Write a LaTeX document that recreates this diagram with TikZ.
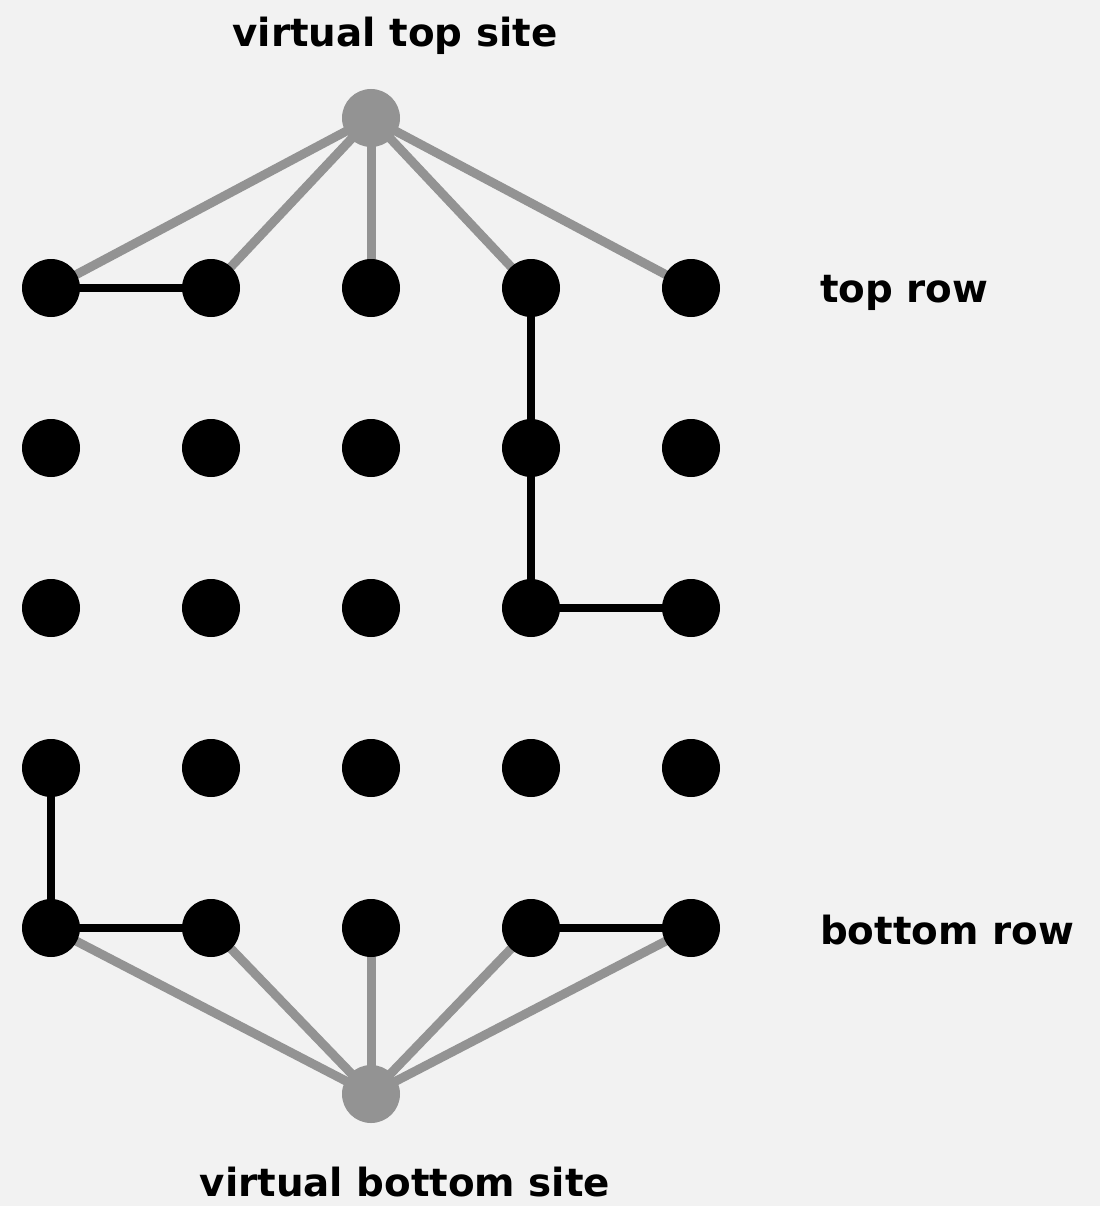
\documentclass[tikz,border=0pt]{standalone}
\usepackage{fontspec}
\setmainfont{DejaVu Sans}
\definecolor{bg}{HTML}{F2F2F2}
\definecolor{vgray}{HTML}{939393}
\begin{document}
\begin{tikzpicture}[x=1pt,y=-1pt,
  site/.style={circle,fill=black,inner sep=0pt,minimum size=58pt},
  vsite/.style={circle,fill=vgray,inner sep=0pt,minimum size=58pt},
  open/.style={line width=8pt,black},
  vlink/.style={line width=9pt,vgray},
  lbl/.style={font=\fontsize{38.8}{44}\selectfont\bfseries,anchor=base,inner sep=0pt}]
\fill[bg] (0,0) rectangle (1100,1206);
\useasboundingbox (0,0) rectangle (1100,1206);
\foreach \r in {0,...,4}{
  \foreach \c in {0,...,4}{
    \coordinate (p\r\c) at ({51+160*\c},{288+160*\r});
  }
}
\coordinate (vt) at (371,118);
\coordinate (vb) at (371,1094);
% virtual links
\foreach \c in {0,...,4}{
  \draw[vlink] (vt) -- (p0\c);
  \draw[vlink] (vb) -- (p4\c);
}
% open links
\draw[open] (p00) -- (p01);
\draw[open] (p03) -- (p13) -- (p23) -- (p24);
\draw[open] (p30) -- (p40) -- (p41);
\draw[open] (p43) -- (p44);
% sites
\foreach \r in {0,...,4}{
  \foreach \c in {0,...,4}{
    \node[site] (s\r\c) at (p\r\c) {};
  }
}
\node[vsite] (top) at (vt) {};
\node[vsite] (bot) at (vb) {};
% labels
\node[lbl] (ltop) at (395,47) {virtual top site};
\node[lbl] (lbot) at (405,1196) {virtual bottom site};
\node[lbl,anchor=base west] (ltr) at (820,302) {top row};
\node[lbl,anchor=base west] (lbr) at (820,944) {bottom row};
\end{tikzpicture}
\end{document}
